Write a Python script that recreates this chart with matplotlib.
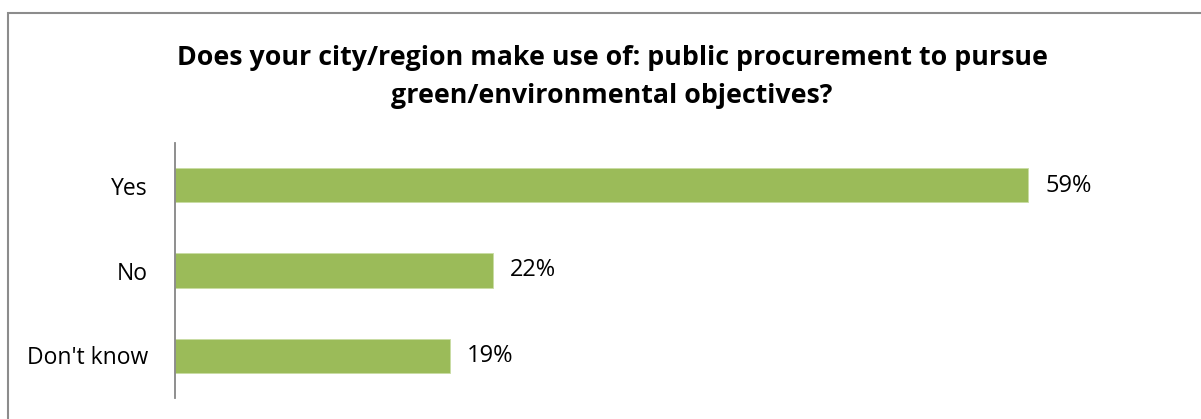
import matplotlib.pyplot as plt
from matplotlib.patches import Rectangle

categories = ['Yes', 'No', "Don't know"]
shares = [0.59, 0.22, 0.19]
title = ('Does your city/region make use of: public procurement to pursue\n'
         'green/environmental objectives?')

bar_color = '#9BBB59'
W, H = 1201, 419

plt.rcParams['font.family'] = ['Open Sans', 'DejaVu Sans']

fig = plt.figure(figsize=(W / 100, H / 100), dpi=100)

# chart frame, runs off the right and bottom edges
fig.patches.append(Rectangle((8 / W, -0.1), 1.2, 1 - 13 / H + 0.1,
                             transform=fig.transFigure, fill=False,
                             edgecolor='#8C8C8C', lw=1.5))

ax = fig.add_axes([175 / W, 1 - 398 / H, (1187 - 175) / W, (398 - 143) / H])
y = range(len(categories))
ax.barh(y, shares, height=0.4, color=bar_color, edgecolor='#C9DCA3', lw=0.6)
ax.set_ylim(len(categories) - 0.5, -0.5)
ax.set_xlim(0, 0.7)

ax.set_yticks(list(y))
ax.set_yticklabels(categories, fontsize=16.5)
ax.tick_params(axis='y', length=0, pad=19.5)
ax.set_xticks([])
for side in ['top', 'right', 'bottom']:
    ax.spines[side].set_visible(False)
ax.spines['left'].set_color('#868686')
ax.spines['left'].set_linewidth(1.3)

for i, v in enumerate(shares):
    ax.text(v + 0.0118, i, '%d%%' % round(v * 100), va='center', ha='left',
            fontsize=17)

fig.text(612 / W, 1 - 77 / H, title, ha='center', va='center',
         fontsize=19.3, fontweight='bold', linespacing=1.62)

fig.savefig('out.png', dpi=100)
